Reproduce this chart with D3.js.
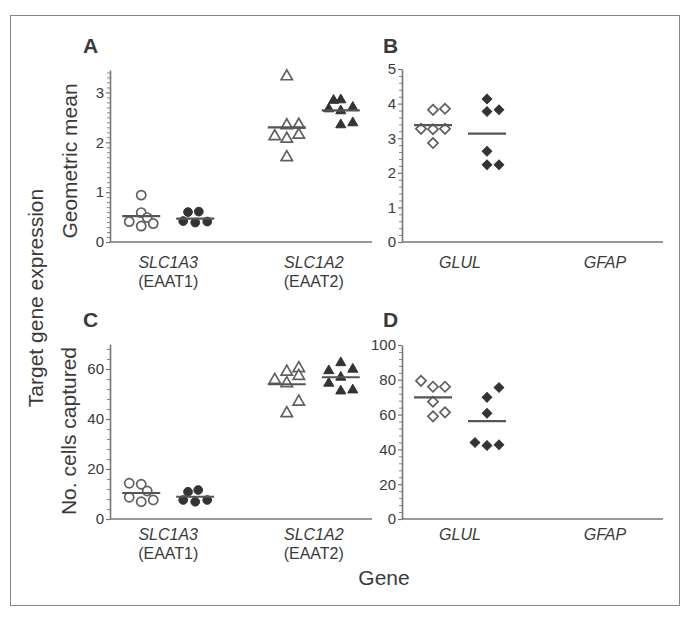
<!DOCTYPE html>
<html>
<head>
<meta charset="utf-8">
<script src="https://cdn.jsdelivr.net/npm/d3@7"></script>
<style>
  html, body { margin: 0; padding: 0; background: #fff; }
  svg { display: block; }
  text { font-family: "Liberation Sans", Arial, Helvetica, sans-serif; fill: #3a3a3a; }
</style>
</head>
<body>
<svg id="chart" width="690" height="618"></svg>
<script>
// ---------------- DATA ----------------
const genesTop = ["SLC1A3", "SLC1A2"];
const proteinsTop = ["(EAAT1)", "(EAAT2)"];
const genesRight = ["GLUL", "GFAP"];

const ticksA = [0, 1, 2, 3];
const ticksB = [0, 1, 2, 3, 4, 5];
const ticksC = [0, 20, 40, 60];
const ticksD = [0, 20, 40, 60, 80, 100];

// Panel A: geometric mean
const aSLC1A3Open   = [0.94, 0.59, 0.49, 0.41, 0.32, 0.37];
const aSLC1A3OpenSlot = [0, 0, 0.5, -1, 0, 1];
const aSLC1A3Filled = [0.60, 0.61, 0.42, 0.39, 0.41];
const aSLC1A3FilledSlot = [-0.6, 0.3, -1, 0, 1];
const aSLC1A2Open   = [3.32, 2.34, 2.35, 2.12, 2.07, 2.15, 1.70];
const aSLC1A2OpenSlot = [0, 0, 1, -1, 0, 1, 0];
const aSLC1A2Filled = [2.84, 2.85, 2.67, 2.63, 2.70, 2.35, 2.39];
const aSLC1A2FilledSlot = [-0.6, 0, -1, 0, 1, 0, 1];
const aMeans = [0.52, 0.47, 2.30, 2.64];

// Panel B: geometric mean
const bGLULOpen   = [3.82, 3.85, 3.27, 3.26, 3.27, 2.86];
const bGLULOpenSlot = [0, 1, -1, 0, 1, 0];
const bGLULFilled = [4.13, 3.77, 3.82, 2.62, 2.23, 2.23];
const bGLULFilledSlot = [0, 0, 1, 0, 0, 1];
const bMeans = [3.38, 3.13];

// Panel C: number of cells captured
const cSLC1A3Open   = [14.3, 13.9, 11.2, 8.7, 6.9, 7.6];
const cSLC1A3OpenSlot = [-1, 0, 0.5, -1, 0, 1];
const cSLC1A3Filled = [10.9, 11.6, 7.6, 6.9, 7.6];
const cSLC1A3FilledSlot = [-0.6, 0.25, -1, 0, 1];
const cSLC1A2Open   = [55.6, 58.9, 54.3, 60.3, 57.2, 46.9, 42.3];
const cSLC1A2OpenSlot = [-1, 0, 0, 1, 1, 1, 0];
const cSLC1A2Filled = [62.5, 59.3, 59.9, 56.7, 54.3, 51.2, 51.6];
const cSLC1A2FilledSlot = [0, -1, 1, 0, -1, 0, 1];
const cMeans = [10.4, 8.9, 53.9, 56.7];

// Panel D: number of cells captured
const dGLULOpen   = [79.4, 76.0, 76.0, 67.4, 59.0, 61.3];
const dGLULOpenSlot = [-1, 0, 1, 0, 0, 1];
const dGLULFilled = [75.6, 69.9, 60.8, 44.0, 42.3, 42.7];
const dGLULFilledSlot = [1, 0, 0, -1, 0, 1];
const dMeans = [69.9, 56.2];

// ---------------- LAYOUT / STYLE ----------------
const svg = d3.select("#chart");
const stroke = "#606060", dark = "#333333";

// outer frame
svg.append("rect").attr("x", 10.5).attr("y", 15.5).attr("width", 669).attr("height", 590)
  .attr("fill", "none").attr("stroke", "#888").attr("stroke-width", 1);

function series(cat, sub, shape, filled, vals, slots, mean) {
  return { cat, sub, shape, filled, pts: vals.map((v, i) => ({ v, s: slots[i] })), mean };
}

const panels = [
  { letter: "A", lx: 83, ly: 53, x0: 110, x1: 372, y0: 242, y1: 70, dom: [0, 3.45], ticks: ticksA, minor: 0.1,
    cats: genesTop, subs: proteinsTop, labY: 268,
    series: [
      series("SLC1A3", 0, "circle", false, aSLC1A3Open, aSLC1A3OpenSlot, aMeans[0]),
      series("SLC1A3", 1, "circle", true, aSLC1A3Filled, aSLC1A3FilledSlot, aMeans[1]),
      series("SLC1A2", 0, "triangle", false, aSLC1A2Open, aSLC1A2OpenSlot, aMeans[2]),
      series("SLC1A2", 1, "triangle", true, aSLC1A2Filled, aSLC1A2FilledSlot, aMeans[3])
    ] },
  { letter: "B", lx: 383, ly: 53, x0: 402, x1: 663, y0: 242, y1: 69, dom: [0, 5], ticks: ticksB, minor: 0.2,
    cats: genesRight, subs: null, labY: 268,
    series: [
      series("GLUL", 0, "diamond", false, bGLULOpen, bGLULOpenSlot, bMeans[0]),
      series("GLUL", 1, "diamond", true, bGLULFilled, bGLULFilledSlot, bMeans[1])
    ] },
  { letter: "C", lx: 83, ly: 327, x0: 110, x1: 372, y0: 519, y1: 344, dom: [0, 70], ticks: ticksC, minor: 4,
    cats: genesTop, subs: proteinsTop, labY: 540,
    series: [
      series("SLC1A3", 0, "circle", false, cSLC1A3Open, cSLC1A3OpenSlot, cMeans[0]),
      series("SLC1A3", 1, "circle", true, cSLC1A3Filled, cSLC1A3FilledSlot, cMeans[1]),
      series("SLC1A2", 0, "triangle", false, cSLC1A2Open, cSLC1A2OpenSlot, cMeans[2]),
      series("SLC1A2", 1, "triangle", true, cSLC1A2Filled, cSLC1A2FilledSlot, cMeans[3])
    ] },
  { letter: "D", lx: 383, ly: 327, x0: 402, x1: 663, y0: 519, y1: 345, dom: [0, 100], ticks: ticksD, minor: 4,
    cats: genesRight, subs: null, labY: 540,
    series: [
      series("GLUL", 0, "diamond", false, dGLULOpen, dGLULOpenSlot, dMeans[0]),
      series("GLUL", 1, "diamond", true, dGLULFilled, dGLULFilledSlot, dMeans[1])
    ] }
];

const symbolType = { circle: d3.symbolCircle, triangle: d3.symbolTriangle, diamond: d3.symbolSquare };
const symbolSizeOpen = { circle: 66, triangle: 56, diamond: 52 };
const symbolSizeFilled = { circle: 60, triangle: 44, diamond: 46 };
const slotW = 12;

panels.forEach(p => {
  const g = svg.append("g");
  const x = d3.scalePoint().domain(p.cats).range([p.x0, p.x1]).padding(0.4);
  const xs = d3.scalePoint().domain([0, 1]).range([-27, 27]);
  const y = d3.scaleLinear().domain(p.dom).range([p.y0, p.y1]);

  // minor ticks
  const minorVals = d3.range(0, p.dom[1] + 1e-9, p.minor).filter(v => !p.ticks.some(t => Math.abs(t - v) < 1e-6));
  g.append("g").attr("transform", `translate(${p.x0},0)`)
    .call(d3.axisLeft(y).tickValues(minorVals).tickSize(3).tickSizeOuter(0).tickFormat(""))
    .call(a => a.select(".domain").remove())
    .call(a => a.selectAll("line").attr("stroke", "#888").attr("stroke-width", 1));

  // major y axis
  g.append("g").attr("transform", `translate(${p.x0},0)`)
    .call(d3.axisLeft(y).tickValues(p.ticks).tickSize(4).tickSizeOuter(0).tickPadding(2).tickFormat(d3.format("d")))
    .call(a => a.select(".domain").attr("stroke", "#777").attr("stroke-width", 1.6))
    .call(a => a.selectAll("line").attr("stroke", "#777").attr("stroke-width", 1.2))
    .call(a => a.selectAll("text").attr("font-size", 15).attr("fill", "#3a3a3a")
      .attr("font-family", "Liberation Sans, Arial, sans-serif"));

  // x axis (no ticks)
  g.append("g").attr("transform", `translate(0,${p.y0})`)
    .call(d3.axisBottom(x).tickValues([]).tickSizeOuter(0))
    .call(a => a.select(".domain").attr("stroke", "#777").attr("stroke-width", 1.6)
      .attr("d", `M${p.x0},0H${p.x1}`));

  // category labels
  p.cats.forEach((c, i) => {
    g.append("text").attr("x", x(c)).attr("y", p.labY).attr("text-anchor", "middle")
      .attr("font-size", 16).attr("font-style", "italic").text(c);
    if (p.subs) {
      g.append("text").attr("x", x(c)).attr("y", p.labY + 19).attr("text-anchor", "middle")
        .attr("font-size", 16).text(p.subs[i]);
    }
  });

  // points
  p.series.forEach(s => {
    const cx = x(s.cat) + xs(s.sub);
    const sizes = s.filled ? symbolSizeFilled : symbolSizeOpen;
    const sym = d3.symbol().type(symbolType[s.shape]).size(sizes[s.shape]);
    g.selectAll(null).data(s.pts).enter().append("path")
      .attr("d", sym)
      .attr("transform", d => {
        const px = cx + d.s * slotW, py = y(d.v);
        return s.shape === "diamond" ? `translate(${px},${py}) rotate(45)` : `translate(${px},${py})`;
      })
      .attr("fill", s.filled ? dark : "#fff")
      .attr("stroke", s.filled ? dark : stroke)
      .attr("stroke-width", s.filled ? 1 : 1.7);
    // mean line
    g.append("line").attr("x1", cx - 19).attr("x2", cx + 19)
      .attr("y1", y(s.mean)).attr("y2", y(s.mean))
      .attr("stroke", "#555").attr("stroke-width", 2.2);
  });

  // panel letter
  g.append("text").attr("x", p.lx).attr("y", p.ly).attr("font-size", 21)
    .attr("font-weight", "bold").attr("fill", "#111").text(p.letter);
});

// axis titles
svg.append("text").attr("transform", "translate(77,161) rotate(-90)").attr("text-anchor", "middle")
  .attr("font-size", 21).text("Geometric mean");
svg.append("text").attr("transform", "translate(76,431) rotate(-90)").attr("text-anchor", "middle")
  .attr("font-size", 21).text("No. cells captured");
svg.append("text").attr("transform", "translate(43,298) rotate(-90)").attr("text-anchor", "middle")
  .attr("font-size", 21).text("Target gene expression");
svg.append("text").attr("x", 384).attr("y", 585).attr("text-anchor", "middle")
  .attr("font-size", 21).text("Gene");
</script>
</body>
</html>
